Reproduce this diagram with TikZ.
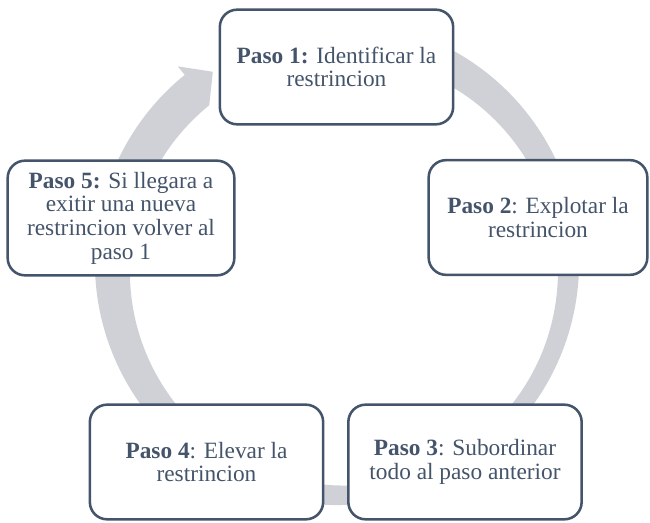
\documentclass[tikz,border=0pt]{standalone}
\usepackage{fontspec}
\setmainfont{Liberation Serif}
\definecolor{pasoazul}{HTML}{44546A}
\definecolor{anillo}{RGB}{207,209,214}

\begin{document}
\begin{tikzpicture}
	[x=0.75pt,y=0.75pt,every node/.style={draw=pasoazul, line width=1.9pt, fill=white, rounded corners=13pt, minimum height=86pt, align=center, text=pasoazul, inner sep=0pt, font=\fontsize{17.5}{17.8}\selectfont}]
	\tikzstyle{ring} = [fill=anillo, draw=none];
	
	\useasboundingbox (0,0) rectangle (650,522);
	
	\fill[ring, shift={(337,259)}] (75:242) arc[start angle=75, end angle=-231, radius=242]
		-- (-231:253) -- (-237:228) -- (-231:203)
		arc[start angle=-231, end angle=75, radius=214] -- cycle;
	
	\node[minimum width=175pt] (p1) at (336.5,455) {\textbf{Paso 1:} Identificar la\\restrincion};
	\node[minimum width=164pt] (p2) at (538,304.5) {\textbf{Paso 2}: Explotar la\\restrincion};
	\node[minimum width=175pt] (p3) at (465,60) {\textbf{Paso 3}: Subordinar\\todo al paso anterior};
	\node[minimum width=175pt] (p4) at (206.5,60) {\textbf{Paso 4}: Elevar la\\restrincion};
	\node[minimum width=170pt] (p5) at (121,304) {\textbf{Paso 5:} Si llegara a\\exitir una nueva\\restrincion volver al\\paso 1};
\end{tikzpicture}
\end{document}
